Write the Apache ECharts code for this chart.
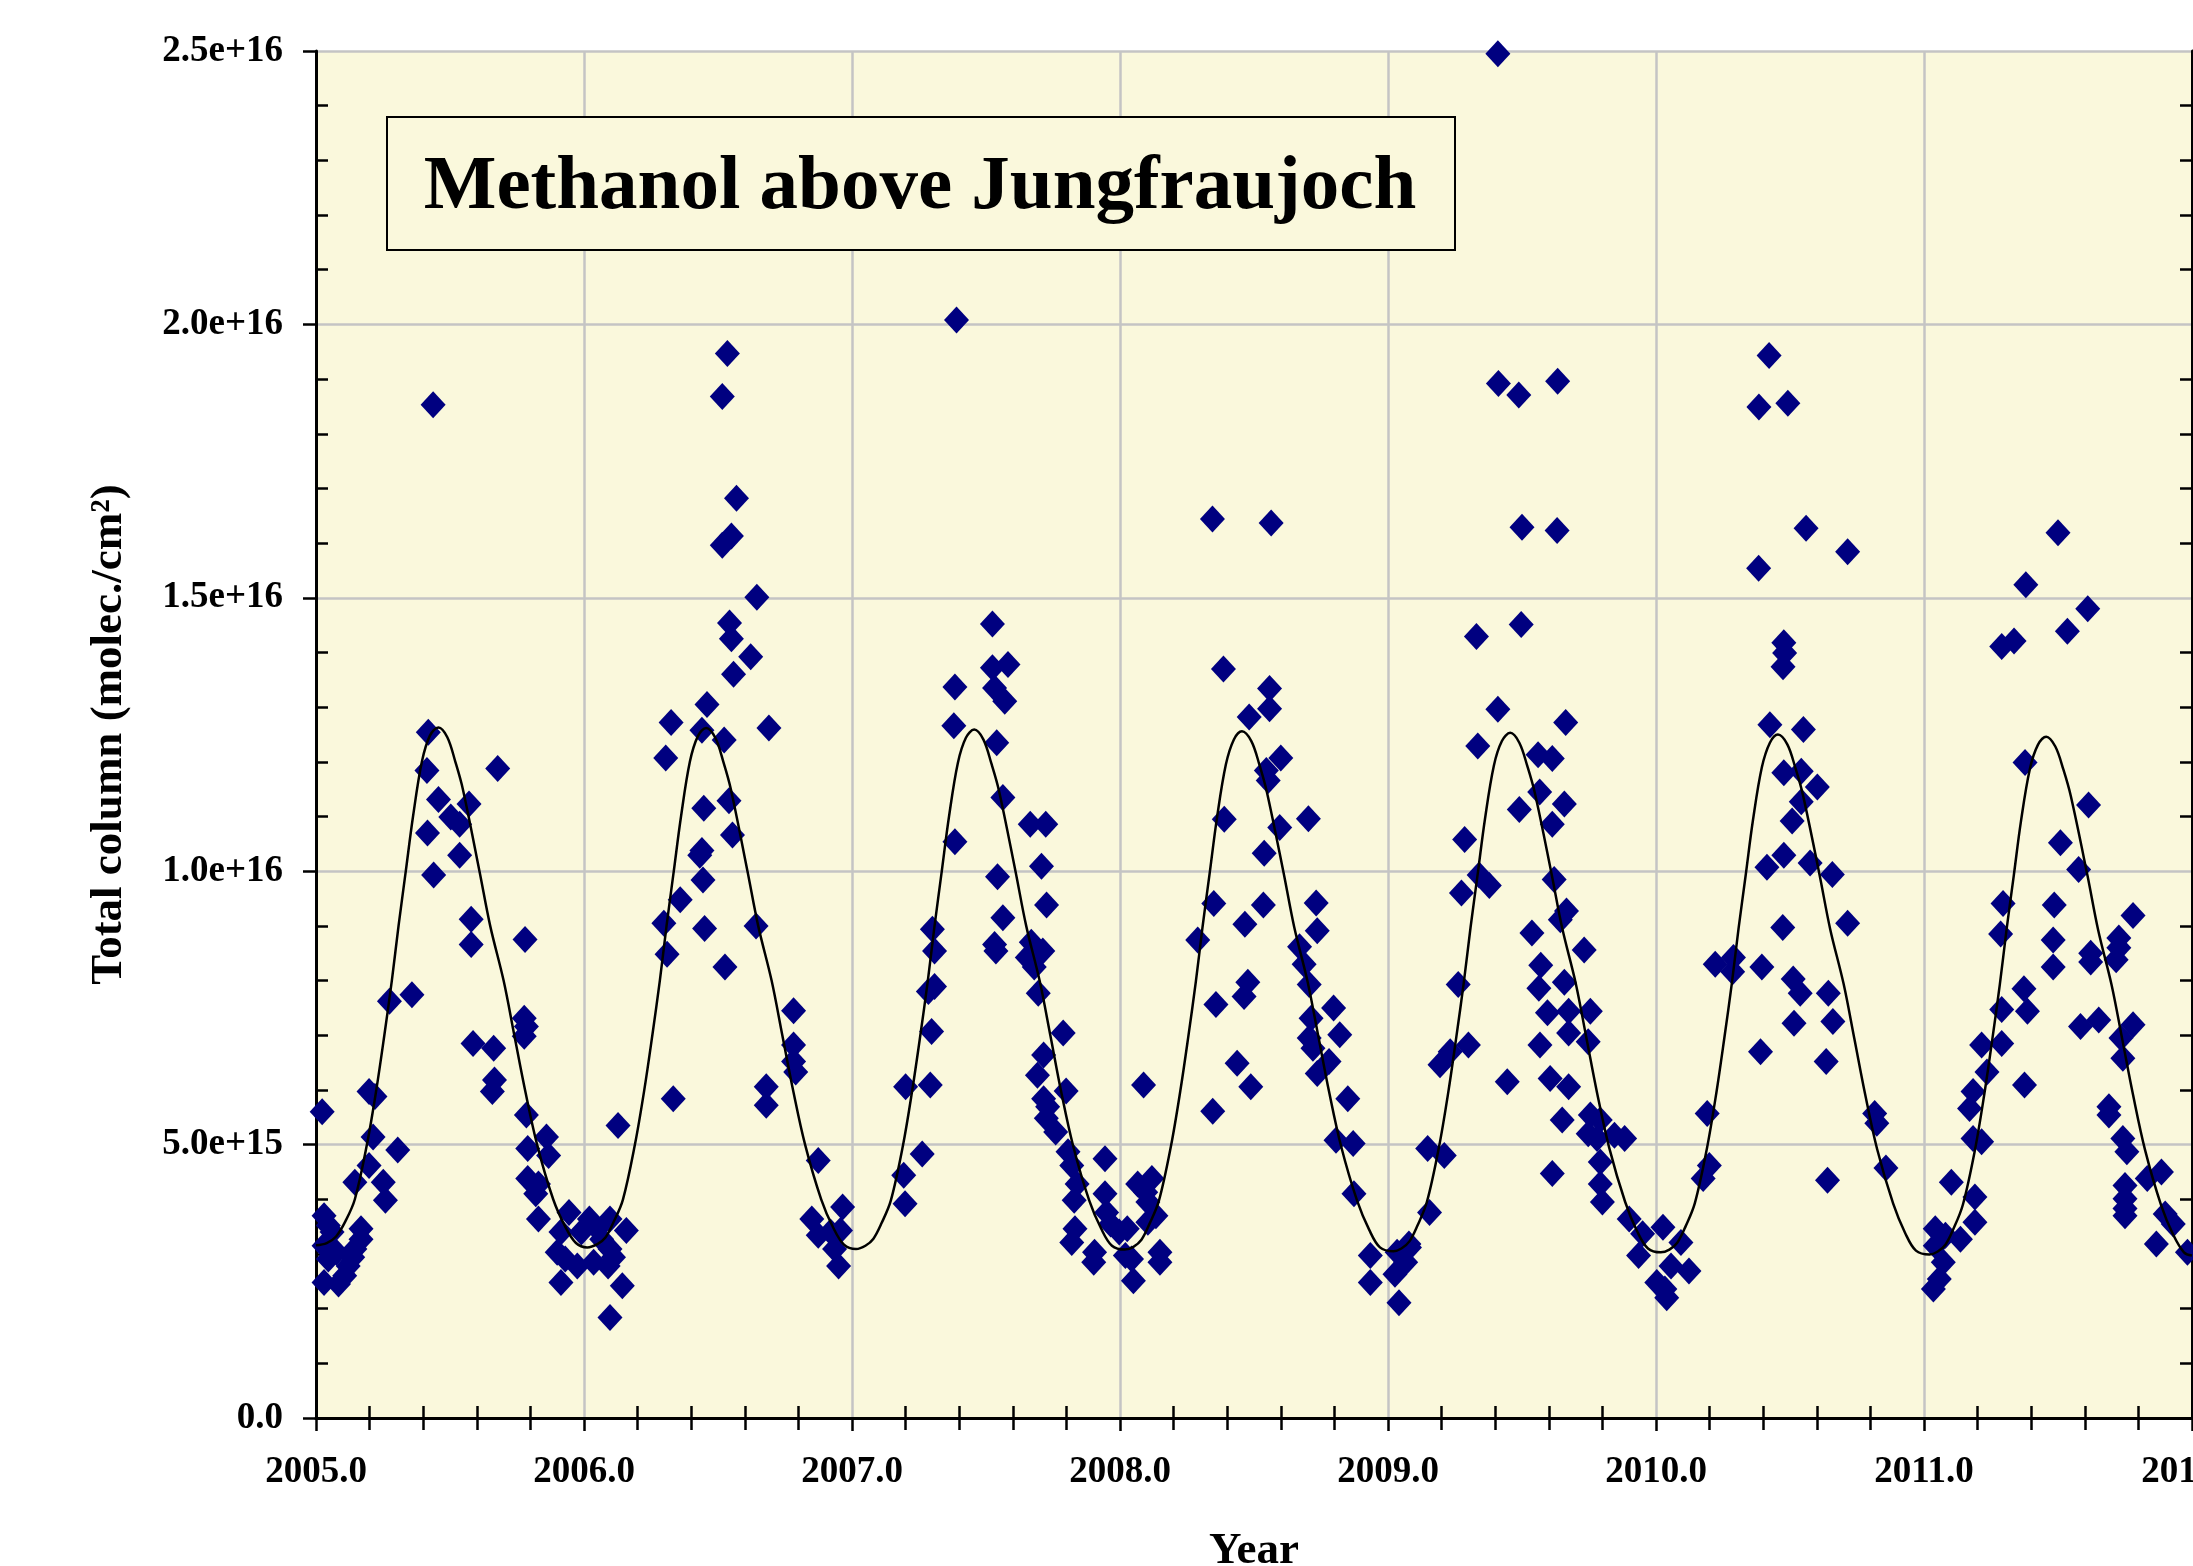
<!DOCTYPE html>
<html>
<head>
<meta charset="utf-8">
<title>Methanol above Jungfraujoch</title>
<script src="https://cdn.jsdelivr.net/npm/echarts@6.0.0/dist/echarts.min.js"></script>
<style>
  html, body { margin: 0; padding: 0; background: #fff; }
  #chart { width: 2193px; height: 1566px; }
</style>
</head>
<body>
<div id="chart"></div>
<script>
// [decimal year, total column in 1e15 molec./cm2]
const obs2005 = [
  [2005.023, 5.60], [2005.030, 3.70], [2005.046, 3.52], [2005.060, 3.40], [2005.030, 3.15],
  [2005.046, 2.91], [2005.030, 2.48], [2005.084, 2.45], [2005.107, 2.60], [2005.120, 2.78],
  [2005.137, 2.94], [2005.145, 3.09], [2005.168, 3.27], [2005.168, 3.46], [2005.076, 3.03],
  [2005.145, 4.31], [2005.198, 4.62], [2005.213, 5.14], [2005.198, 5.97], [2005.220, 5.88],
  [2005.251, 4.31], [2005.259, 3.98], [2005.305, 4.90], [2005.274, 7.62], [2005.358, 7.74],
  [2005.437, 18.53], [2005.419, 12.54], [2005.414, 11.84], [2005.457, 11.31], [2005.503, 10.99],
  [2005.536, 10.86], [2005.571, 11.23], [2005.416, 10.70], [2005.536, 10.29], [2005.439, 9.93],
  [2005.678, 11.88], [2005.579, 9.12], [2005.579, 8.66], [2005.780, 8.75], [2005.586, 6.85],
  [2005.663, 6.76], [2005.666, 6.18], [2005.658, 5.97], [2005.777, 7.31], [2005.785, 7.16],
  [2005.777, 6.98], [2005.785, 5.54], [2005.860, 5.14], [2005.790, 4.93], [2005.868, 4.80],
  [2005.790, 4.38], [2005.830, 4.28], [2005.820, 4.10], [2005.830, 3.64], [2005.944, 3.76],
  [2005.914, 3.40], [2005.900, 3.03], [2005.930, 2.91], [2005.914, 2.48], [2005.975, 2.78],
  [2005.990, 3.40]
];
const obs2006 = [
  [2006.020, 3.64], [2006.050, 3.46], [2006.097, 3.64], [2006.036, 2.85], [2006.090, 2.78],
  [2006.127, 5.35], [2006.158, 3.43], [2006.143, 2.42], [2006.097, 1.84], [2006.066, 3.27],
  [2006.097, 3.09], [2006.110, 2.94],
  [2006.535, 19.47], [2006.516, 18.68], [2006.569, 16.82], [2006.550, 16.13], [2006.516, 15.96],
  [2006.645, 15.01], [2006.543, 14.54], [2006.550, 14.25], [2006.622, 13.92], [2006.558, 13.60],
  [2006.459, 13.05], [2006.325, 12.72], [2006.440, 12.58], [2006.523, 12.40], [2006.690, 12.62],
  [2006.305, 12.07], [2006.447, 11.15], [2006.541, 11.29], [2006.554, 10.66], [2006.440, 10.38],
  [2006.432, 10.29], [2006.444, 9.84], [2006.359, 9.48], [2006.298, 9.05], [2006.450, 8.95],
  [2006.642, 9.00], [2006.310, 8.48], [2006.526, 8.25], [2006.333, 5.84], [2006.782, 7.45],
  [2006.782, 6.82], [2006.782, 6.52], [2006.790, 6.33], [2006.680, 6.06], [2006.680, 5.72],
  [2006.874, 4.71], [2006.965, 3.86], [2006.850, 3.64], [2006.874, 3.34], [2006.920, 3.40],
  [2006.957, 3.43], [2006.935, 3.09], [2006.950, 2.78]
];
const obs2007 = [
  [2007.300, 8.94], [2007.308, 8.54], [2007.285, 7.80], [2007.308, 7.89], [2007.297, 7.07],
  [2007.200, 6.06], [2007.292, 6.09], [2007.262, 4.83], [2007.193, 4.44], [2007.198, 3.92],
  [2007.390, 20.08], [2007.524, 14.52], [2007.384, 13.37], [2007.524, 13.72], [2007.582, 13.78],
  [2007.532, 13.35], [2007.570, 13.11], [2007.380, 12.66], [2007.540, 12.35], [2007.563, 11.35],
  [2007.665, 10.86], [2007.723, 10.86], [2007.384, 10.54], [2007.707, 10.09], [2007.543, 9.90],
  [2007.726, 9.38], [2007.563, 9.15], [2007.532, 8.66], [2007.537, 8.54], [2007.669, 8.70],
  [2007.654, 8.42], [2007.712, 8.54], [2007.680, 8.25], [2007.695, 7.77], [2007.788, 7.04],
  [2007.715, 6.64], [2007.692, 6.27], [2007.799, 5.98], [2007.715, 5.84], [2007.730, 5.69],
  [2007.725, 5.48], [2007.760, 5.23], [2007.806, 4.87], [2007.820, 4.62], [2007.840, 4.28],
  [2007.829, 3.98], [2007.944, 4.74], [2007.832, 3.46], [2007.820, 3.21], [2007.905, 3.03],
  [2007.902, 2.85], [2007.944, 4.10], [2007.950, 3.76], [2007.965, 3.55], [2007.997, 3.40]
];
const obs2008 = [
  [2008.027, 3.46], [2008.020, 2.97], [2008.043, 2.91], [2008.050, 2.51], [2008.088, 6.09],
  [2008.066, 4.28], [2008.119, 4.38], [2008.096, 4.13], [2008.104, 3.95], [2008.134, 3.70],
  [2008.149, 3.03], [2008.149, 2.85], [2008.104, 3.58],
  [2008.345, 16.44], [2008.564, 16.37], [2008.386, 13.70], [2008.558, 13.34], [2008.482, 12.82],
  [2008.558, 12.97], [2008.600, 12.07], [2008.546, 11.84], [2008.553, 11.66], [2008.389, 10.95],
  [2008.596, 10.80], [2008.703, 10.96], [2008.538, 10.33], [2008.350, 9.41], [2008.535, 9.38],
  [2008.732, 9.42], [2008.466, 9.03], [2008.290, 8.74], [2008.736, 8.91], [2008.670, 8.62],
  [2008.687, 8.30], [2008.477, 7.97], [2008.706, 7.93], [2008.463, 7.71], [2008.358, 7.56],
  [2008.437, 6.49], [2008.488, 6.06], [2008.346, 5.61], [2008.797, 7.50], [2008.713, 7.31],
  [2008.820, 7.01], [2008.706, 6.95], [2008.720, 6.76], [2008.780, 6.52], [2008.736, 6.30],
  [2008.850, 5.84], [2008.806, 5.08], [2008.870, 5.02], [2008.873, 4.10], [2008.934, 2.97],
  [2008.934, 2.48]
];
const obs2009 = [
  [2009.034, 3.03], [2009.080, 3.12], [2009.066, 2.85], [2009.026, 2.63], [2009.041, 2.11],
  [2009.078, 3.18], [2009.155, 3.76], [2009.148, 4.93], [2009.210, 4.80], [2009.194, 6.46],
  [2009.232, 6.70], [2009.300, 6.82],
  [2009.410, 24.95], [2009.412, 18.92], [2009.488, 18.71], [2009.633, 18.96], [2009.500, 16.29],
  [2009.631, 16.23], [2009.497, 14.51], [2009.330, 14.29], [2009.410, 12.96], [2009.663, 12.72],
  [2009.335, 12.29], [2009.560, 12.13], [2009.613, 12.06], [2009.566, 11.45], [2009.490, 11.13],
  [2009.658, 11.23], [2009.613, 10.86], [2009.286, 10.58], [2009.340, 9.93], [2009.378, 9.74],
  [2009.274, 9.60], [2009.620, 9.85], [2009.666, 9.27], [2009.643, 9.11], [2009.537, 8.87],
  [2009.570, 8.28], [2009.658, 7.97], [2009.563, 7.86], [2009.262, 7.93], [2009.595, 7.41],
  [2009.674, 7.44], [2009.674, 7.04], [2009.567, 6.82], [2009.605, 6.21], [2009.674, 6.06],
  [2009.650, 5.45], [2009.445, 6.15], [2009.613, 4.47], [2009.732, 8.56], [2009.755, 7.44],
  [2009.747, 6.88], [2009.755, 5.54], [2009.792, 5.45], [2009.747, 5.20], [2009.780, 5.11],
  [2009.845, 5.17], [2009.883, 5.11], [2009.792, 4.68], [2009.792, 4.28], [2009.800, 3.95],
  [2009.900, 3.64], [2009.950, 3.37], [2009.935, 2.97]
];
const obs2010 = [
  [2010.026, 3.49], [2010.093, 3.21], [2010.003, 2.48], [2010.040, 2.20], [2010.056, 2.78],
  [2010.123, 2.69], [2010.033, 2.36], [2010.191, 5.57], [2010.199, 4.62], [2010.176, 4.38],
  [2010.422, 19.43], [2010.384, 18.49], [2010.492, 18.56], [2010.560, 16.27], [2010.715, 15.84],
  [2010.383, 15.54], [2010.477, 14.18], [2010.480, 13.99], [2010.474, 13.74], [2010.425, 12.68],
  [2010.550, 12.59], [2010.477, 11.80], [2010.542, 11.83], [2010.602, 11.54], [2010.542, 11.27],
  [2010.508, 10.92], [2010.477, 10.29], [2010.414, 10.07], [2010.575, 10.15], [2010.658, 9.94],
  [2010.473, 8.97], [2010.715, 9.05], [2010.221, 8.30], [2010.289, 8.42], [2010.286, 8.16],
  [2010.395, 8.25], [2010.512, 8.03], [2010.538, 7.77], [2010.643, 7.77], [2010.515, 7.22],
  [2010.660, 7.25], [2010.390, 6.70], [2010.635, 6.52], [2010.816, 5.57], [2010.824, 5.39],
  [2010.858, 4.57], [2010.640, 4.35]
];
const obs2011 = [
  [2011.500, 16.19], [2011.380, 15.24], [2011.611, 14.80], [2011.535, 14.39], [2011.290, 14.11],
  [2011.336, 14.21], [2011.377, 11.99], [2011.614, 11.21], [2011.509, 10.52], [2011.577, 10.03],
  [2011.295, 9.41], [2011.486, 9.38], [2011.780, 9.19], [2011.286, 8.85], [2011.482, 8.74],
  [2011.727, 8.78], [2011.727, 8.60], [2011.622, 8.50], [2011.622, 8.34], [2011.717, 8.38],
  [2011.482, 8.25], [2011.373, 7.85], [2011.290, 7.47], [2011.386, 7.44], [2011.215, 6.82],
  [2011.290, 6.85], [2011.235, 6.33], [2011.375, 6.09], [2011.183, 5.97], [2011.170, 5.66],
  [2011.183, 5.11], [2011.215, 5.05], [2011.102, 4.31], [2011.190, 4.04], [2011.190, 3.58],
  [2011.136, 3.27], [2011.042, 3.46], [2011.080, 3.34], [2011.042, 3.15], [2011.072, 2.85],
  [2011.057, 2.54], [2011.035, 2.36], [2011.584, 7.16], [2011.652, 7.28], [2011.780, 7.19],
  [2011.735, 6.95], [2011.742, 6.58], [2011.690, 5.69], [2011.690, 5.54], [2011.742, 5.11],
  [2011.757, 4.87], [2011.886, 4.50], [2011.833, 4.38], [2011.750, 4.25], [2011.750, 4.01],
  [2011.750, 3.83], [2011.750, 3.70], [2011.900, 3.73], [2011.930, 3.55], [2011.867, 3.18],
  [2011.983, 3.03]
];

// seasonal fit drawn through the scatter
const seasonalFit = [
  [2005.000, 3.16], [2005.040, 3.20], [2005.075, 3.32], [2005.110, 3.60], [2005.145, 4.00],
  [2005.190, 5.00], [2005.225, 6.00], [2005.255, 7.00], [2005.283, 8.00], [2005.308, 9.00],
  [2005.335, 10.00], [2005.362, 11.00], [2005.395, 12.00], [2005.425, 12.48], [2005.457, 12.63],
  [2005.490, 12.45], [2005.520, 12.00], [2005.548, 11.50], [2005.610, 10.00], [2005.650, 9.00],
  [2005.700, 8.00], [2005.740, 7.00], [2005.780, 6.00], [2005.825, 5.00], [2005.885, 4.00],
  [2005.930, 3.50], [2005.970, 3.20],
  [2006.012, 3.12], [2006.050, 3.18], [2006.080, 3.30], [2006.110, 3.58], [2006.145, 3.99],
  [2006.190, 5.00], [2006.225, 6.00], [2006.255, 7.00], [2006.283, 8.00], [2006.308, 9.00],
  [2006.335, 10.00], [2006.362, 11.00], [2006.395, 12.00], [2006.425, 12.47], [2006.456, 12.62],
  [2006.490, 12.44], [2006.520, 12.00], [2006.548, 11.50], [2006.610, 10.00], [2006.650, 9.00],
  [2006.700, 8.00], [2006.740, 7.00], [2006.780, 6.00], [2006.825, 5.00], [2006.885, 4.00],
  [2006.930, 3.48], [2006.970, 3.17],
  [2007.015, 3.09], [2007.050, 3.15], [2007.080, 3.28], [2007.110, 3.56], [2007.145, 3.98],
  [2007.190, 4.98], [2007.225, 6.00], [2007.255, 7.00], [2007.283, 8.00], [2007.308, 9.00],
  [2007.335, 10.00], [2007.362, 11.00], [2007.395, 11.98], [2007.425, 12.44], [2007.456, 12.59],
  [2007.490, 12.41], [2007.520, 11.97], [2007.548, 11.48], [2007.610, 10.00], [2007.650, 9.00],
  [2007.700, 8.00], [2007.740, 7.00], [2007.780, 5.98], [2007.825, 4.98], [2007.885, 3.98],
  [2007.930, 3.46], [2007.970, 3.15],
  [2008.018, 3.08], [2008.050, 3.13], [2008.080, 3.26], [2008.110, 3.55], [2008.145, 3.97],
  [2008.190, 4.97], [2008.225, 5.98], [2008.255, 6.98], [2008.283, 7.98], [2008.308, 8.98],
  [2008.335, 9.98], [2008.362, 10.98], [2008.395, 11.95], [2008.425, 12.41], [2008.455, 12.56],
  [2008.490, 12.38], [2008.520, 11.95], [2008.548, 11.45], [2008.610, 9.98], [2008.650, 8.98],
  [2008.700, 7.98], [2008.740, 6.98], [2008.780, 5.97], [2008.825, 4.97], [2008.885, 3.97],
  [2008.930, 3.44], [2008.970, 3.12],
  [2009.020, 3.05], [2009.050, 3.10], [2009.080, 3.23], [2009.110, 3.52], [2009.145, 3.95],
  [2009.190, 4.95], [2009.225, 5.96], [2009.255, 6.97], [2009.283, 7.97], [2009.308, 8.97],
  [2009.335, 9.96], [2009.362, 10.96], [2009.395, 11.93], [2009.425, 12.38], [2009.456, 12.53],
  [2009.490, 12.35], [2009.520, 11.92], [2009.548, 11.43], [2009.610, 9.96], [2009.650, 8.96],
  [2009.700, 7.96], [2009.740, 6.96], [2009.780, 5.95], [2009.825, 4.95], [2009.885, 3.95],
  [2009.930, 3.41], [2009.970, 3.10],
  [2010.018, 3.03], [2010.050, 3.08], [2010.080, 3.21], [2010.110, 3.50], [2010.145, 3.93],
  [2010.190, 4.93], [2010.225, 5.94], [2010.255, 6.95], [2010.283, 7.95], [2010.308, 8.95],
  [2010.335, 9.94], [2010.362, 10.94], [2010.395, 11.90], [2010.425, 12.35], [2010.455, 12.50],
  [2010.490, 12.32], [2010.520, 11.89], [2010.548, 11.40], [2010.610, 9.94], [2010.650, 8.94],
  [2010.700, 7.94], [2010.740, 6.94], [2010.780, 5.93], [2010.825, 4.92], [2010.885, 3.92],
  [2010.930, 3.38], [2010.970, 3.06],
  [2011.020, 2.99], [2011.050, 3.04], [2011.080, 3.17], [2011.110, 3.46], [2011.145, 3.90],
  [2011.190, 4.90], [2011.225, 5.92], [2011.255, 6.93], [2011.283, 7.93], [2011.308, 8.93],
  [2011.335, 9.92], [2011.362, 10.92], [2011.395, 11.87], [2011.425, 12.31], [2011.456, 12.46],
  [2011.490, 12.28], [2011.520, 11.86], [2011.548, 11.37], [2011.610, 9.92], [2011.650, 8.92],
  [2011.700, 7.92], [2011.740, 6.92], [2011.780, 5.91], [2011.825, 4.90], [2011.885, 3.89],
  [2011.930, 3.35], [2011.970, 3.03], [2012.000, 2.97]
];

const yearTicks = [2005, 2006, 2007, 2008, 2009, 2010, 2011, 2012];
const columnTicks = [0, 5e15, 1e16, 1.5e16, 2e16, 2.5e16];
const COLUMN_UNIT = 1e15;

const SERIF = '"Liberation Serif", "Times New Roman", serif';
const PLOT_BG = '#FAF8DC';
const NAVY = '#000080';
const GRID_GREY = '#c4c4c4';

const observations = [].concat(obs2005, obs2006, obs2007, obs2008, obs2009, obs2010, obs2011);
const toColumn = p => [p[0], p[1] * COLUMN_UNIT];

const xBase = {
  type: 'value',
  min: yearTicks[0],
  max: yearTicks[yearTicks.length - 1],
  interval: yearTicks[1] - yearTicks[0]
};
const yBase = {
  type: 'value',
  min: columnTicks[0],
  max: columnTicks[columnTicks.length - 1],
  interval: columnTicks[1] - columnTicks[0]
};
const blackLine = { color: '#000', width: 3 };
const tickLine = { color: '#000', width: 2.5 };
const labelFont = { fontFamily: SERIF, fontWeight: 'bold', fontSize: 37, color: '#000' };
const nameFont = { fontFamily: SERIF, fontWeight: 'bold', fontSize: 45, color: '#000' };

// minor ticks point into the plot while major ticks point out, so each side
// gets an extra axis; a negative length turns its minor ticks inwards
const minorAxis = (base, position, showLine, extra) => Object.assign({}, base, {
  position: position,
  axisLine: { show: showLine, lineStyle: blackLine },
  axisTick: { show: false, inside: false },
  minorTick: { show: true, splitNumber: 5, length: -12, lineStyle: tickLine },
  axisLabel: { show: false },
  splitLine: { show: false }
}, extra || {});

const chart = echarts.init(document.getElementById('chart'));

chart.setOption({
  animation: false,
  backgroundColor: '#fff',
  grid: {
    left: 316, top: 51, right: 1, bottom: 148,
    show: true, backgroundColor: PLOT_BG, borderWidth: 0,
    containLabel: false, outerBoundsMode: 'none'
  },
  xAxis: [
    Object.assign({}, xBase, {
      position: 'bottom',
      axisLine: { show: true, lineStyle: blackLine },
      axisTick: { show: true, inside: false, length: 13, lineStyle: tickLine },
      axisLabel: Object.assign({ margin: 36, formatter: v => v.toFixed(1), showMinLabel: true, showMaxLabel: true, hideOverlap: false }, labelFont),
      splitLine: { show: true, lineStyle: { color: GRID_GREY, width: 2.5 } },
      name: 'Year', nameLocation: 'middle', nameGap: 111, nameMoveOverlap: false,
      nameTextStyle: nameFont
    }),
    minorAxis(xBase, 'bottom', false),
    minorAxis(xBase, 'top', true, { offset: 4 })
  ],
  yAxis: [
    Object.assign({}, yBase, {
      position: 'left',
      axisLine: { show: true, lineStyle: blackLine },
      axisTick: { show: true, inside: false, length: 13, lineStyle: tickLine },
      axisLabel: Object.assign({ margin: 33, formatter: v => (v === 0 ? '0.0' : v.toExponential(1)), showMinLabel: true, showMaxLabel: true }, labelFont),
      splitLine: { show: true, lineStyle: { color: GRID_GREY, width: 2.5 } },
      name: 'Total column (molec./cm²)', nameLocation: 'middle', nameGap: 184, nameRotate: 90, nameMoveOverlap: false,
      nameTextStyle: nameFont
    }),
    minorAxis(yBase, 'left', false),
    minorAxis(yBase, 'right', true)
  ],
  graphic: [
    {
      type: 'rect', left: 386, top: 116, z: 10,
      shape: { width: 1068, height: 133 },
      style: { fill: PLOT_BG, stroke: '#000', lineWidth: 2 }
    },
    {
      type: 'text', x: 920, y: 188, z: 11,
      style: {
        text: 'Methanol above Jungfraujoch',
        font: 'bold 77px ' + SERIF,
        fill: '#000',
        align: 'center', verticalAlign: 'middle',
        textAlign: 'center', textVerticalAlign: 'middle'
      }
    }
  ],
  series: [
    {
      type: 'scatter', name: 'FTIR', xAxisIndex: 0, yAxisIndex: 0,
      data: observations.map(toColumn),
      symbol: 'diamond', symbolSize: [25, 27],
      itemStyle: { color: NAVY, opacity: 1 },
      clip: false, silent: true, z: 3
    },
    {
      type: 'line', name: 'fit', xAxisIndex: 0, yAxisIndex: 0,
      data: seasonalFit.map(toColumn),
      showSymbol: false, symbol: 'none', smooth: 0.35,
      lineStyle: { color: '#000', width: 2.5 },
      silent: true, z: 4
    }
  ]
});
</script>
</body>
</html>
